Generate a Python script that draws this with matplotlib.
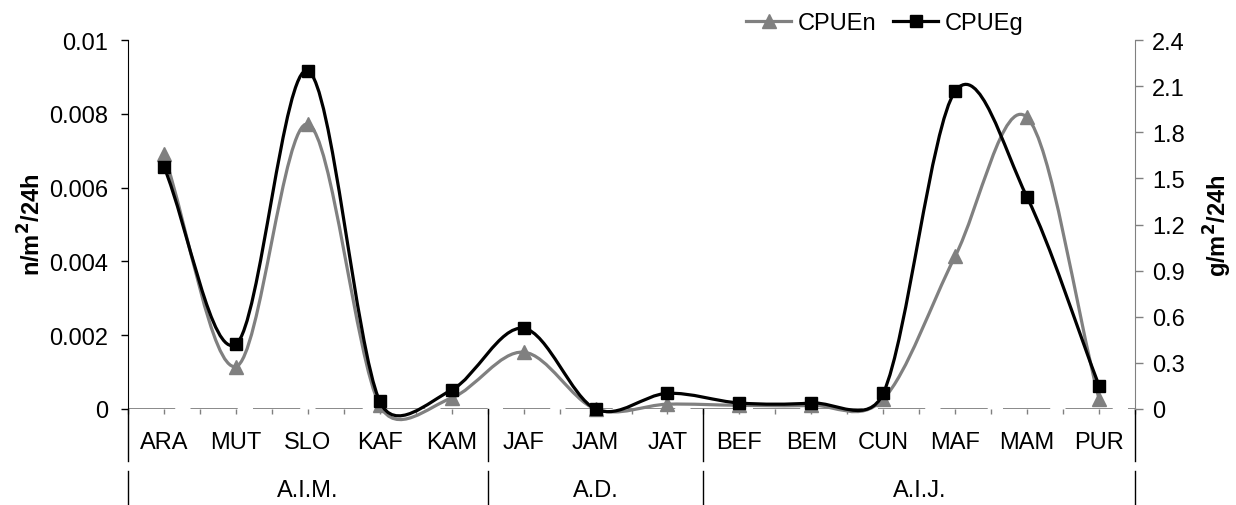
import numpy as np
import matplotlib.pyplot as plt
from matplotlib.path import Path
from matplotlib.patches import PathPatch
from matplotlib.lines import Line2D
import matplotlib.transforms as mtransforms

plt.rcParams['font.family'] = ['Liberation Sans', 'DejaVu Sans']
plt.rcParams['lines.scale_dashes'] = False

sites = ['ARA', 'MUT', 'SLO', 'KAF', 'KAM', 'JAF', 'JAM', 'JAT',
         'BEF', 'BEM', 'CUN', 'MAF', 'MAM', 'PUR']
groups = ['A.I.M.', 'A.D.', 'A.I.J.']
group_sizes = [5, 3, 6]

# n/m2/24h (left axis)
cpue_n = [0.0069, 0.00115, 0.00772, 0.0001, 0.0003, 0.00154, 0.0,
          0.00013, 0.0001, 0.0001, 0.00027, 0.00414, 0.0079, 0.00027]
# g/m2/24h (right axis)
cpue_g = [1.576, 0.421, 2.200, 0.05, 0.124, 0.525, 0.0,
          0.102, 0.039, 0.039, 0.102, 2.066, 1.377, 0.152]

left_ticks = [0, 0.002, 0.004, 0.006, 0.008, 0.01]
left_ticklabels = ['0', '0.002', '0.004', '0.006', '0.008', '0.01']
right_ticks = [0, 0.3, 0.6, 0.9, 1.2, 1.5, 1.8, 2.1, 2.4]
right_ticklabels = ['0', '0.3', '0.6', '0.9', '1.2', '1.5', '1.8', '2.1', '2.4']

fs = 17
gray = '#808080'
W, H = 1236, 506
ax_w, ax_h = 1135 - 128, 369


def smooth_path(y, ymax):
    # excel style smoothed line: bezier tangents (P[i+1]-P[i-1])/6,
    # worked out in pixel space and capped at half the segment length
    n = len(y)
    sx = ax_w / n
    sy = ax_h / ymax
    P = np.column_stack([np.arange(n) * sx, np.asarray(y, float) * sy])
    verts = [P[0]]
    codes = [Path.MOVETO]
    for i in range(n - 1):
        p1, p2 = P[i], P[i + 1]
        d12 = np.hypot(*(p2 - p1))
        t1 = (p2 - P[i - 1]) / 6 if i > 0 else (p2 - p1) / 3
        t2 = (P[i + 2] - p1) / 6 if i + 2 < n else (p2 - p1) / 3
        for t in (t1, t2):
            ln = np.hypot(*t)
            if ln > d12 / 2:
                t *= d12 / 2 / ln
        verts += [p1 + t1, p2 - t2, p2]
        codes += [Path.CURVE4] * 3
    verts = np.array(verts) / [sx, sy]
    return Path(verts, codes)


fig = plt.figure(figsize=(W / 100, H / 100), dpi=100)
ax = fig.add_axes([128 / W, 1 - 410 / H, ax_w / W, ax_h / H])
ax2 = ax.twinx()

x = np.arange(len(sites))
ax.set_xlim(-0.5, len(sites) - 0.5)
ax.set_ylim(0, 0.01)
ax2.set_ylim(0, 2.4)

ax.axhline(0, color=gray, lw=1.3, linestyle=(0, (34, 11)), zorder=1)

ax.add_patch(PathPatch(smooth_path(cpue_n, 0.01), fill=False, ec=gray, lw=2.3,
                       capstyle='round', joinstyle='round', clip_on=False, zorder=3))
ln_n, = ax.plot(x, cpue_n, ls='none', marker='^', ms=10, color=gray,
                clip_on=False, zorder=4)
ax2.add_patch(PathPatch(smooth_path(cpue_g, 2.4), fill=False, ec='black', lw=2.3,
                        capstyle='round', joinstyle='round', clip_on=False, zorder=3))
ln_g, = ax2.plot(x, cpue_g, ls='none', marker='s', ms=8.5, color='black',
                 clip_on=False, zorder=4)

# spines
for s in ['top', 'right', 'bottom']:
    ax.spines[s].set_visible(False)
for s in ['top', 'left', 'bottom']:
    ax2.spines[s].set_visible(False)
ax.spines['left'].set_color('black')
ax2.spines['right'].set_color(gray)

ax.set_yticks(left_ticks)
ax.set_yticklabels(left_ticklabels, fontsize=fs)
ax.tick_params(axis='y', length=5, width=1, color='black', pad=9.5)
ax2.set_yticks(right_ticks)
ax2.set_yticklabels(right_ticklabels, fontsize=fs)
ax2.tick_params(axis='y', length=5.5, width=1, color=gray, pad=7)

ax.set_xticks(x)
ax.set_xticklabels(sites, fontsize=fs)
ax.set_xticks(np.arange(-0.5, len(sites), 1), minor=True)
ax.tick_params(axis='x', which='both', length=3.6, width=1, color=gray,
               direction='out', pad=12)

# grouping rows under the categories
trans = mtransforms.blended_transform_factory(ax.transData, ax.transAxes)
bounds = np.concatenate([[0], np.cumsum(group_sizes)]) - 0.5
for b in bounds:
    ax.add_line(Line2D([b, b], [0, -52 / ax_h], transform=trans, color='black',
                       lw=1, clip_on=False))
    ax.add_line(Line2D([b, b], [-62 / ax_h, -96 / ax_h], transform=trans,
                       color='black', lw=1, clip_on=False))
for g, a, b in zip(groups, bounds[:-1], bounds[1:]):
    ax.text((a + b) / 2, -81 / ax_h, g, transform=trans, ha='center',
            va='center', fontsize=fs)

fig.text(32 / W, 1 - 225 / H, 'n/m$^\\mathbf{2}$/24h', rotation=90, ha='center',
         va='center', fontsize=fs, fontweight='bold')
fig.text(1218 / W, 1 - 226 / H, 'g/m$^\\mathbf{2}$/24h', rotation=90, ha='center',
         va='center', fontsize=fs, fontweight='bold')

h_n = Line2D([], [], color=gray, lw=2.3, marker='^', ms=10)
h_g = Line2D([], [], color='black', lw=2.3, marker='s', ms=8.5)
ax2.legend([h_n, h_g], ['CPUEn', 'CPUEg'], loc='center',
           bbox_to_anchor=(885 / W, 1 - 24 / H), bbox_transform=fig.transFigure,
           ncol=2, frameon=False, fontsize=fs, handlelength=1.9,
           handletextpad=0.3, columnspacing=0.7, borderpad=0)

fig.savefig('out.png', dpi=100)
